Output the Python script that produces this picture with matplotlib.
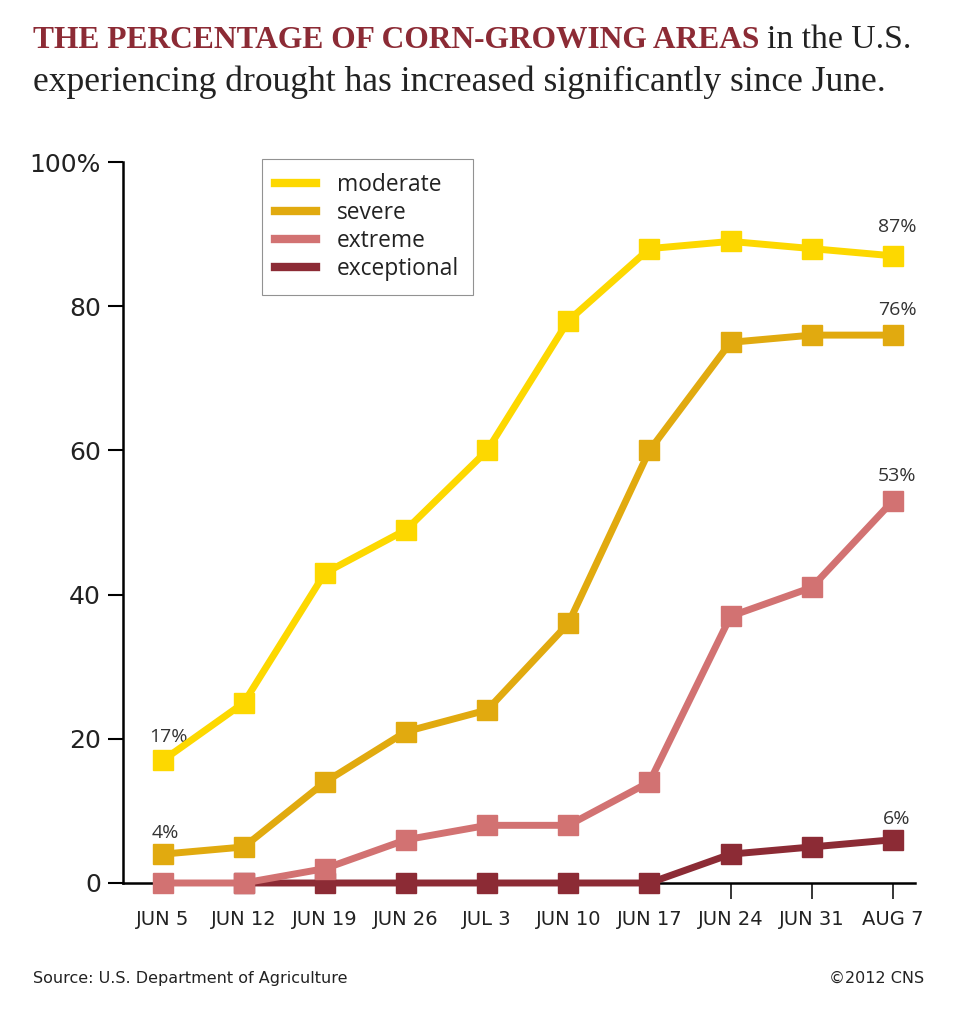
import matplotlib
matplotlib.use('Agg')
import numpy as np
import matplotlib.pyplot as plt

# Data
dates = ['JUN 5', 'JUN 12', 'JUN 19', 'JUN 26', 'JUL 3', 'JUN 10', 'JUN 17', 'JUN 24', 'JUN 31', 'AUG 7']
moderate = [17, 25, 43, 49, 60, 78, 88, 89, 88, 87]
severe = [4, 5, 14, 21, 24, 36, 60, 75, 76, 76]
extreme = [0, 0, 2, 6, 8, 8, 14, 37, 41, 53]
exceptional = [np.nan, 0, 0, 0, 0, 0, 0, 4, 5, 6]

c_mod = '#FDD800'
c_sev = '#E1AA0F'
c_ext = '#D27272'
c_exc = '#8C2B35'
title_red = '#8C2B35'

fig = plt.figure(figsize=(9.55, 10.24), dpi=100)
ax = fig.add_axes([0.1288, 0.1377, 0.829, 0.704])

x = np.arange(len(dates))
lw = 5
ms = 14

ax.plot(x, exceptional, color=c_exc, lw=lw, marker='s', ms=ms, clip_on=False, zorder=3, label='exceptional')
ax.plot(x, extreme, color=c_ext, lw=lw, marker='s', ms=ms, clip_on=False, zorder=4, label='extreme')
ax.plot(x, severe, color=c_sev, lw=lw, marker='s', ms=ms, clip_on=False, zorder=5, label='severe')
ax.plot(x, moderate, color=c_mod, lw=lw, marker='s', ms=ms, clip_on=False, zorder=6, label='moderate')

# value labels
lab_kw = dict(textcoords='offset points', ha='center', va='center', fontsize=14,
              color='#333333', family='Open Sans')
ax.annotate(f'{moderate[0]}%', (x[0], moderate[0]), xytext=(4, 17), **lab_kw)
ax.annotate(f'{severe[0]}%', (x[0], severe[0]), xytext=(2, 15), **lab_kw)
ax.annotate(f'{moderate[-1]}%', (x[-1], moderate[-1]), xytext=(3, 21), **lab_kw)
ax.annotate(f'{severe[-1]}%', (x[-1], severe[-1]), xytext=(3, 18), **lab_kw)
ax.annotate(f'{extreme[-1]}%', (x[-1], extreme[-1]), xytext=(3, 18), **lab_kw)
ax.annotate(f'{int(exceptional[-1])}%', (x[-1], exceptional[-1]), xytext=(3, 15), **lab_kw)

ax.set_xlim(-0.49, 9.27)
ax.set_ylim(0, 100)

for s in ['top', 'right']:
    ax.spines[s].set_visible(False)
ax.spines['left'].set_linewidth(1.8)
ax.spines['bottom'].set_linewidth(1.8)

ax.set_yticks([0, 20, 40, 60, 80, 100])
ax.set_yticklabels(['0', '20', '40', '60', '80', '100%'], fontsize=18, family='DejaVu Sans', color='#222222')
ax.tick_params(axis='y', length=11, width=1.5, pad=5)

ax.set_xticks(x)
ax.set_xticklabels(dates, fontsize=14, family='DejaVu Sans', color='#222222')
ax.tick_params(axis='x', length=11.5, width=1.1, pad=8)
for i, t in enumerate(ax.xaxis.get_major_ticks()):
    if i < 7:
        t.tick1line.set_visible(False)

handles, labels = ax.get_legend_handles_labels()
leg = ax.legend(handles[::-1], labels[::-1], loc='upper left', bbox_to_anchor=(0.175, 1.004),
                prop={'family': 'Open Sans', 'size': 16.4}, frameon=True, fancybox=False,
                handlelength=1.8, handletextpad=0.9, labelspacing=0.18, borderpad=0.6,
                borderaxespad=0, labelcolor='#222222')
leg.get_frame().set_edgecolor('#777777')
leg.get_frame().set_linewidth(0.8)
for l in leg.get_lines():
    l.set_marker('')
    l.set_linewidth(6)

# title
t1 = fig.text(0.035, 0.953, 'THE PERCENTAGE OF CORN-GROWING AREAS', fontsize=22.7, fontweight='bold',
              family='Liberation Serif', color=title_red, va='baseline')
fig.canvas.draw()
bb = t1.get_window_extent()
x2 = (bb.x1 + 7) / fig.bbox.width
fig.text(x2, 0.953, 'in the U.S.', fontsize=24.2, family='Liberation Serif', color='#222222', va='baseline')
fig.text(0.035, 0.911, 'experiencing drought has increased significantly since June.', fontsize=25.6,
         family='Liberation Serif', color='#222222', va='baseline')

fig.text(0.035, 0.04, 'Source: U.S. Department of Agriculture', fontsize=11.5,
         family='DejaVu Sans', color='#222222')
fig.text(0.968, 0.04, '\u00a92012 CNS', fontsize=11.5, ha='right',
         family='DejaVu Sans', color='#222222')

fig.savefig('out.png', dpi=100, facecolor='white')
